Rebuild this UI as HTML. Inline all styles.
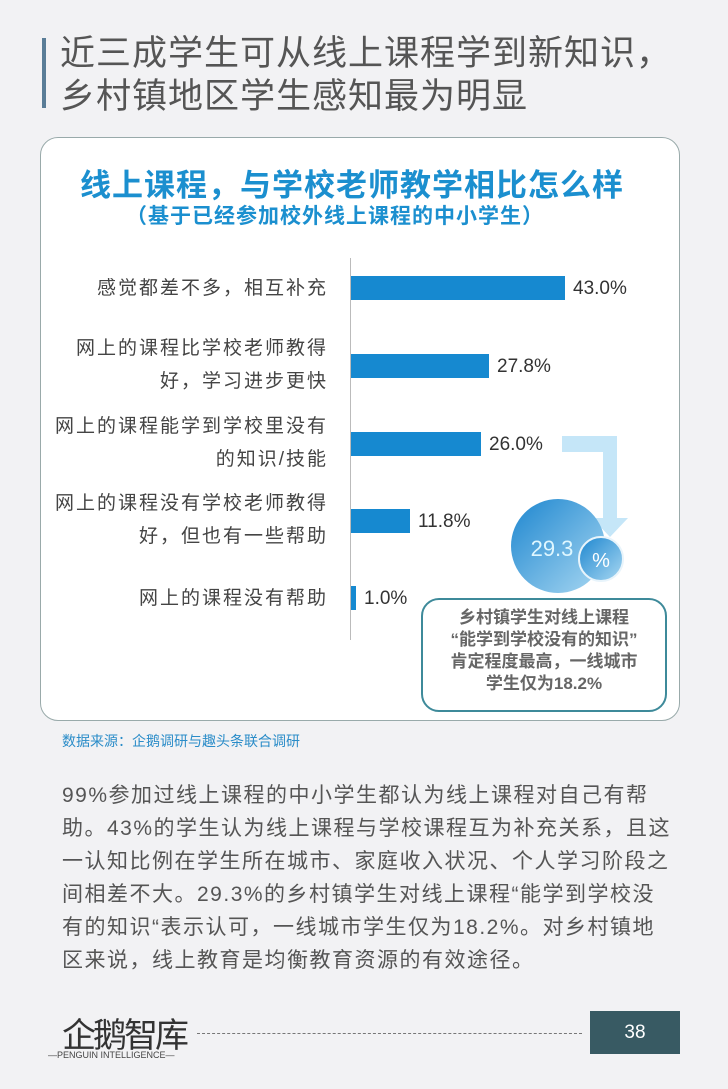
<!DOCTYPE html>
<html><head><meta charset="utf-8"><style>
body{margin:0;width:728px;height:1089px;background:#f2f2f4;position:relative;overflow:hidden;font-family:"Liberation Sans","Noto Sans CJK SC",sans-serif;}
.a{position:absolute;white-space:nowrap;}
.lbl{position:absolute;right:400px;text-align:right;font-size:19px;letter-spacing:2px;color:#444;line-height:33px;}
.bar{position:absolute;left:351px;height:24px;background:#1689d0;}
.val{position:absolute;font-size:19px;color:#333;}
</style></head><body>
<div class="a" style="left:42px;top:38px;width:4px;height:70px;background:#5a7d97"></div>
<div class="a" style="left:60px;top:32px;font-size:35px;color:#555;line-height:43px;letter-spacing:1px;">近三成学生可从线上课程学到新知识，<br>乡村镇地区学生感知最为明显</div>
<div class="a" style="left:40px;top:137px;width:638px;height:582px;background:#fff;border:1px solid #9aa;border-radius:18px;"></div>
<div class="a" style="left:80px;top:160px;font-size:31px;font-weight:bold;color:#1b8fcf;letter-spacing:1px;">线上课程，与学校老师教学相比怎么样</div>
<div class="a" style="left:126px;top:200px;font-size:21px;font-weight:bold;color:#1b8fcf;letter-spacing:1px;">（基于已经参加校外线上课程的中小学生）</div>
<div class="a" style="left:350px;top:258px;width:1px;height:382px;background:#bbb"></div>

<div class="lbl" style="top:272px">感觉都差不多，相互补充</div>
<div class="bar" style="top:276px;width:214px"></div><div class="val" style="left:573px;top:278px">43.0%</div>
<div class="lbl" style="top:332px">网上的课程比学校老师教得<br>好，学习进步更快</div>
<div class="bar" style="top:354px;width:138px"></div><div class="val" style="left:497px;top:356px">27.8%</div>
<div class="lbl" style="top:410px">网上的课程能学到学校里没有<br>的知识/技能</div>
<div class="bar" style="top:432px;width:130px"></div><div class="val" style="left:489px;top:434px">26.0%</div>
<div class="lbl" style="top:487px">网上的课程没有学校老师教得<br>好，但也有一些帮助</div>
<div class="bar" style="top:509px;width:59px"></div><div class="val" style="left:418px;top:511px">11.8%</div>
<div class="lbl" style="top:582px">网上的课程没有帮助</div>
<div class="bar" style="top:586px;width:5px"></div><div class="val" style="left:364px;top:588px">1.0%</div>

<svg class="a" style="left:0;top:0" width="728" height="1089">
<defs><linearGradient id="g" x1="0" y1="0" x2="1" y2="1"><stop offset="0" stop-color="#1d86cf"/><stop offset="1" stop-color="#a9d8f2"/></linearGradient></defs>
<path d="M562 436 H617 V518 H628 L610 537 L592 518 H603 V452 H562Z" fill="#c5e6f8"/>
<circle cx="558" cy="546" r="47" fill="url(#g)"/>
<circle cx="601" cy="559" r="22" fill="url(#g)" stroke="#e8f4fb" stroke-width="2"/>
<text x="552" y="556" font-size="22" fill="#dff7ff" text-anchor="middle" font-family="Liberation Sans">29.3</text>
<text x="601" y="567" font-size="20" fill="#fff" text-anchor="middle" font-family="Liberation Sans">%</text>
</svg>
<div class="a" style="left:421px;top:598px;width:242px;height:110px;border:2px solid #3e8a9a;border-radius:18px;background:#fff;"></div>
<div class="a" style="left:421px;top:607px;width:246px;text-align:center;font-size:17px;font-weight:bold;color:#666;line-height:22px;">乡村镇学生对线上课程<br>“能学到学校没有的知识”<br>肯定程度最高，一线城市<br>学生仅为18.2%</div>

<div class="a" style="left:62px;top:731px;font-size:14px;color:#2a8cc8;">数据来源：企鹅调研与趣头条联合调研</div>
<div class="a" style="left:62px;top:779px;font-size:21px;letter-spacing:1.5px;color:#555;line-height:33px;">99%参加过线上课程的中小学生都认为线上课程对自己有帮<br>助。43%的学生认为线上课程与学校课程互为补充关系，且这<br>一认知比例在学生所在城市、家庭收入状况、个人学习阶段之<br>间相差不大。29.3%的乡村镇学生对线上课程“能学到学校没<br>有的知识“表示认可，一线城市学生仅为18.2%。对乡村镇地<br>区来说，线上教育是均衡教育资源的有效途径。</div>

<div class="a" style="left:62px;top:1008px;font-size:34px;color:#333;letter-spacing:-3px;">企鹅智库</div>
<div class="a" style="left:48px;top:1050px;font-size:9px;color:#444;">—PENGUIN INTELLIGENCE—</div>
<div class="a" style="left:197px;top:1033px;width:385px;border-top:1px dashed #777;"></div>
<div class="a" style="left:590px;top:1011px;width:90px;height:43px;background:#385a63;color:#fff;font-size:19px;text-align:center;line-height:43px;">38</div>
</body></html>
